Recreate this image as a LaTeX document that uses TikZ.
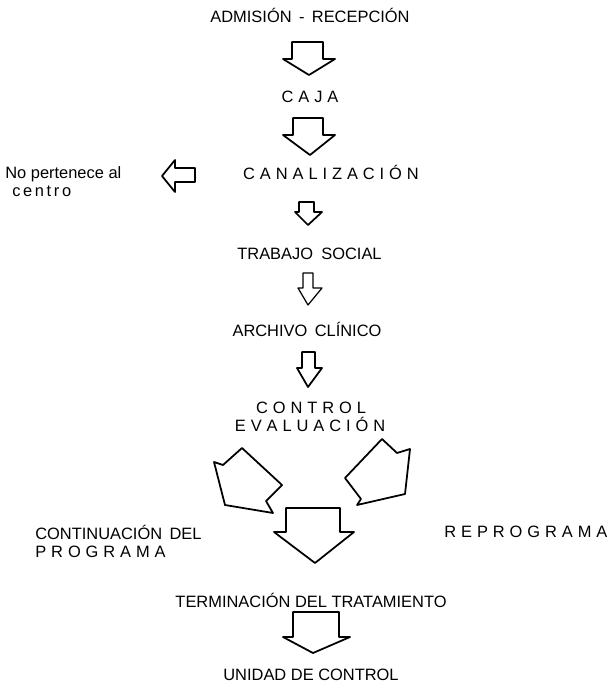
\documentclass[tikz,border=0pt]{standalone}
\usepackage{fontspec}
\setmainfont{Liberation Sans}
\makeatletter
\def\lspgap{0.3em}
\def\spaced#1{\sp@a#1\relax}
\def\sp@a#1{#1\futurelet\sp@next\sp@b}
\def\sp@b{\ifx\sp@next\relax\expandafter\@gobble\else\kern\lspgap\relax\expandafter\sp@a\fi}
\makeatother
\begin{document}
\begin{tikzpicture}[x=0.02cm,y=-0.02cm,
  txt/.style={inner sep=0pt, font=\fontsize{9.35}{11}\selectfont},
  arr/.style={draw, line width=1pt, line join=round}]
\useasboundingbox (0,0) rectangle (610,689);
% texts
\node[txt,anchor=base] (adm) at (310,23) {ADMISIÓN\hspace{0.45em}-\hspace{0.45em}RECEPCIÓN};
\node[txt,anchor=base] (caja) at (310,103) {\spaced{CAJA}};
\node[txt,anchor=base] (can) at (331,180) {\spaced{CANALIZACIÓN}};
\node[txt,anchor=base west] (nop) at (5,179) {No pertenece al};
\node[txt,anchor=base west] (cen) at (12,196) {\def\lspgap{0.16em}\spaced{centro}};
\node[txt,anchor=base] (ts) at (309.5,259) {TRABAJO\hspace{0.5em}SOCIAL};
\node[txt,anchor=base] (ac) at (307,336) {ARCHIVO\hspace{0.45em}CLÍNICO};
\node[txt,anchor=base] (ctl) at (311,413) {\spaced{CONTROL}};
\node[txt,anchor=base] (eva) at (310,431) {\spaced{EVALUACIÓN}};
\node[txt,anchor=base west] (cont) at (35,539) {CONTINUACIÓN\hspace{0.45em}DEL};
\node[txt,anchor=base west] (prog) at (35,557) {\spaced{PROGRAMA}};
\node[txt,anchor=base west] (rep) at (444,537) {\spaced{REPROGRAMA}};
\node[txt,anchor=base] (ter) at (311,607) {TERMINACIÓN DEL TRATAMIENTO};
\node[txt,anchor=base] (uni) at (311,680) {UNIDAD DE CONTROL};
% block arrows
\draw[arr] (292,42) -- (323,42) -- (323,59) -- (335,59) -- (309,75) -- (283,59) -- (292,59) -- cycle;
\draw[arr] (293,118) -- (323,118) -- (323,135) -- (335,135) -- (310,155) -- (283,135) -- (293,135) -- cycle;
\draw[arr] (195,168) -- (195,182) -- (175,182) -- (175,192) -- (162,176) -- (175,160) -- (175,168) -- cycle;
\draw[arr] (299,202) -- (314,202) -- (314,212) -- (322,212) -- (308,225) -- (295,212) -- (299,212) -- cycle;
\draw[arr, line width=0.7pt] (303,273) -- (313,273) -- (313,288) -- (322,288) -- (308,305) -- (298,288) -- (303,288) -- cycle;
\draw[arr] (302,352) -- (315,352) -- (315,368) -- (322,368) -- (308,387) -- (297,368) -- (302,368) -- cycle;
\draw[arr] (242,448) -- (282,485) -- (266,501) -- (273,513) -- (225,505) -- (214,462) -- (223,465) -- cycle;
\draw[arr] (382,439) -- (397,453) -- (410,449) -- (405,494) -- (357,505) -- (361,499) -- (345,478) -- cycle;
\draw[arr] (286,508) -- (340,508) -- (340,532) -- (354,532) -- (315,563) -- (274,532) -- (286,532) -- cycle;
\draw[arr] (293,612) -- (339,612) -- (339,637) -- (350,637) -- (313,653) -- (283,637) -- (293,637) -- cycle;
\end{tikzpicture}
\end{document}
